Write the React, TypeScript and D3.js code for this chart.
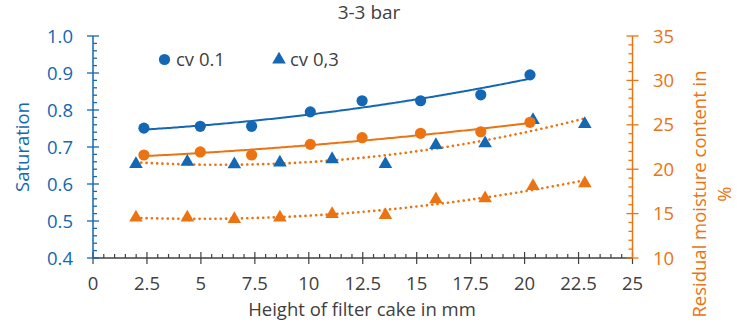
import React, { useEffect, useRef } from 'react';
import * as d3 from 'd3';

// cake heights (mm)
const heightsCv01 = [2.36, 4.97, 7.35, 10.07, 12.47, 15.18, 17.97, 20.25];
const heightsCv03 = [1.99, 4.37, 6.55, 8.66, 11.08, 13.55, 15.89, 18.17, 20.39, 22.79];

// saturation (left axis)
const saturationCv01 = [0.751, 0.756, 0.756, 0.795, 0.825, 0.825, 0.841, 0.895];
const saturationCv03 = [0.654, 0.66, 0.653, 0.658, 0.667, 0.654, 0.705, 0.71, 0.773, 0.762];

// residual moisture in % (right axis)
const moistureCv01 = [21.6, 21.94, 21.6, 22.8, 23.55, 24.04, 24.22, 25.28];
const moistureCv03 = [14.54, 14.54, 14.39, 14.54, 14.95, 14.84, 16.61, 16.72, 18.11, 18.41];

const legendLabels = ['cv 0.1', 'cv 0,3'];
const xTicks = [0, 2.5, 5, 7.5, 10, 12.5, 15, 17.5, 20, 22.5, 25];

const BLUE = '#1467b3';
const ORANGE = '#ec7312';
const GREY = '#404040';
const FONT = '"Open Sans", Lato, sans-serif';
const FS = 18.5;

// least squares 2nd order polynomial, like the excel trendline
function polyFit(xs: number[], ys: number[]) {
    let s = [0, 0, 0, 0, 0];
    let t = [0, 0, 0];
    xs.forEach((x, i) => {
        for (let k = 0; k < 5; k++) s[k] += Math.pow(x, k);
        for (let k = 0; k < 3; k++) t[k] += Math.pow(x, k) * ys[i];
    });
    const A = [
        [s[0], s[1], s[2], t[0]],
        [s[1], s[2], s[3], t[1]],
        [s[2], s[3], s[4], t[2]],
    ];
    for (let i = 0; i < 3; i++) {
        for (let j = i + 1; j < 3; j++) {
            const f = A[j][i] / A[i][i];
            for (let k = i; k < 4; k++) A[j][k] -= f * A[i][k];
        }
    }
    const c = [0, 0, 0];
    for (let i = 2; i >= 0; i--) {
        let v = A[i][3];
        for (let k = i + 1; k < 3; k++) v -= A[i][k] * c[k];
        c[i] = v / A[i][i];
    }
    return (x: number) => c[0] + c[1] * x + c[2] * x * x;
}

const App: React.FC = () => {
    const svgRef = useRef<SVGSVGElement | null>(null);

    useEffect(() => {
        const width = 746;
        const height = 325;
        const margin = { top: 36, right: 113.5, bottom: 67, left: 93 };

        const svg = d3.select(svgRef.current)
            .attr('width', width)
            .attr('height', height);
        svg.selectAll('*').remove();

        const x = d3.scaleLinear().domain([0, 25]).range([margin.left, width - margin.right]);
        const yL = d3.scaleLinear().domain([0.4, 1.0]).range([height - margin.bottom, margin.top]);
        const yR = d3.scaleLinear().domain([10, 35]).range([height - margin.bottom, margin.top]);

        const bottom = height - margin.bottom;
        const right = width - margin.right;

        // title
        svg.append('text')
            .attr('x', 369).attr('y', 19)
            .attr('text-anchor', 'middle')
            .attr('font-family', FONT).attr('font-size', 19)
            .attr('fill', GREY)
            .text('3-3 bar');

        // x axis
        const xAxis = svg.append('g');
        xAxis.append('line')
            .attr('x1', margin.left).attr('x2', right)
            .attr('y1', bottom).attr('y2', bottom)
            .attr('stroke', GREY).attr('stroke-width', 1.3);
        d3.range(0, 25.01, 0.5).forEach(v => {
            const major = Math.abs(v / 2.5 - Math.round(v / 2.5)) < 1e-6;
            xAxis.append('line')
                .attr('x1', x(v)).attr('x2', x(v))
                .attr('y1', major ? bottom - 6 : bottom - 4).attr('y2', major ? bottom + 6 : bottom)
                .attr('stroke', GREY).attr('stroke-width', 1.2);
        });
        xTicks.forEach(v => {
            xAxis.append('text')
                .attr('x', x(v)).attr('y', bottom + 32)
                .attr('text-anchor', 'middle')
                .attr('font-family', FONT).attr('font-size', FS)
                .attr('fill', GREY)
                .text(String(v));
        });
        svg.append('text')
            .attr('x', 362).attr('y', 316)
            .attr('text-anchor', 'middle')
            .attr('font-family', FONT).attr('font-size', FS)
            .attr('fill', GREY)
            .text('Height of filter cake in mm');

        // left axis
        const leftAxis = svg.append('g');
        leftAxis.append('line')
            .attr('x1', margin.left).attr('x2', margin.left)
            .attr('y1', margin.top).attr('y2', bottom)
            .attr('stroke', BLUE).attr('stroke-width', 1.5);
        d3.range(0, 31).forEach(i => {
            const v = 0.4 + i * 0.02;
            const major = i % 5 === 0;
            leftAxis.append('line')
                .attr('x1', major ? margin.left - 6 : margin.left).attr('x2', major ? margin.left + 6 : margin.left + 4)
                .attr('y1', yL(v)).attr('y2', yL(v))
                .attr('stroke', BLUE).attr('stroke-width', 1.3);
        });
        yL.ticks(6).forEach(v => {
            leftAxis.append('text')
                .attr('x', 73).attr('y', yL(v))
                .attr('dy', '0.36em')
                .attr('text-anchor', 'end')
                .attr('font-family', FONT).attr('font-size', FS)
                .attr('fill', BLUE)
                .text(d3.format('.1f')(v));
        });
        svg.append('text')
            .attr('transform', `translate(29,${(margin.top + bottom) / 2}) rotate(-90)`)
            .attr('text-anchor', 'middle')
            .attr('font-family', FONT).attr('font-size', FS)
            .attr('fill', BLUE)
            .text('Saturation');

        // right axis
        const rightAxis = svg.append('g');
        rightAxis.append('line')
            .attr('x1', right).attr('x2', right)
            .attr('y1', margin.top).attr('y2', bottom)
            .attr('stroke', ORANGE).attr('stroke-width', 1.5);
        d3.range(10, 35.01, 1).forEach(v => {
            const major = v % 5 === 0;
            rightAxis.append('line')
                .attr('x1', major ? right - 6 : right - 4).attr('x2', major ? right + 6 : right)
                .attr('y1', yR(v)).attr('y2', yR(v))
                .attr('stroke', ORANGE).attr('stroke-width', 1.3);
        });
        d3.range(10, 35.01, 5).forEach(v => {
            rightAxis.append('text')
                .attr('x', 653).attr('y', yR(v))
                .attr('dy', '0.36em')
                .attr('font-family', FONT).attr('font-size', FS)
                .attr('fill', ORANGE)
                .text(String(v));
        });
        const rTitle = svg.append('text')
            .attr('transform', `translate(706,194) rotate(-90)`)
            .attr('text-anchor', 'middle')
            .attr('font-family', FONT).attr('font-size', FS)
            .attr('fill', ORANGE);
        rTitle.append('tspan').attr('x', 0).attr('dy', 0).text('Residual moisture content in');
        rTitle.append('tspan').attr('x', 0).attr('dy', 25).text('%');

        // trend lines
        const trend = (xs: number[], ys: number[], yScale: d3.ScaleLinear<number, number>, color: string, dotted: boolean) => {
            const f = polyFit(xs, ys);
            const pts = d3.range(d3.min(xs)!, d3.max(xs)! + 0.001, 0.1).map(v => [v, f(v)] as [number, number]);
            const line = d3.line<[number, number]>().x(d => x(d[0])).y(d => yScale(d[1]));
            svg.append('path')
                .attr('d', line(pts)!)
                .attr('fill', 'none')
                .attr('stroke', color)
                .attr('stroke-width', dotted ? 2.6 : 2)
                .attr('stroke-linecap', dotted ? 'round' : 'butt')
                .attr('stroke-dasharray', dotted ? '0.1,5.2' : null);
        };
        trend(heightsCv01, saturationCv01, yL, BLUE, false);
        trend(heightsCv01, moistureCv01, yR, ORANGE, false);
        trend(heightsCv03, saturationCv03, yL, ORANGE, true);
        trend(heightsCv03, moistureCv03, yR, ORANGE, true);

        const tri = d3.symbol().type(d3.symbolTriangle).size(80);

        // markers
        const circles = (ys: number[], yScale: d3.ScaleLinear<number, number>, color: string) => {
            svg.append('g').selectAll('circle')
                .data(ys)
                .join('circle')
                .attr('cx', (d, i) => x(heightsCv01[i]))
                .attr('cy', d => yScale(d))
                .attr('r', 5.6)
                .attr('fill', color);
        };
        const triangles = (ys: number[], yScale: d3.ScaleLinear<number, number>, color: string) => {
            svg.append('g').selectAll('path')
                .data(ys)
                .join('path')
                .attr('d', tri()!)
                .attr('transform', (d, i) => `translate(${x(heightsCv03[i])},${yScale(d)})`)
                .attr('fill', color);
        };
        triangles(saturationCv03, yL, BLUE);
        triangles(moistureCv03, yR, ORANGE);
        circles(saturationCv01, yL, BLUE);
        circles(moistureCv01, yR, ORANGE);

        // legend
        const legend = svg.append('g');
        legend.append('circle').attr('cx', 164.5).attr('cy', 59.5).attr('r', 5.6).attr('fill', BLUE);
        legend.append('path').attr('d', tri()!).attr('transform', 'translate(279,59.5)').attr('fill', BLUE);
        legend.append('text')
            .attr('x', 176).attr('y', 59.5).attr('dy', '0.36em')
            .attr('font-family', FONT).attr('font-size', FS).attr('fill', GREY)
            .text(legendLabels[0]);
        legend.append('text')
            .attr('x', 290).attr('y', 59.5).attr('dy', '0.36em')
            .attr('font-family', FONT).attr('font-size', FS).attr('fill', GREY)
            .text(legendLabels[1]);
    }, []);

    return (
        <svg ref={svgRef} style={{ position: 'absolute', left: 0, top: 0, background: '#fff' }} />
    );
};

export default App;
